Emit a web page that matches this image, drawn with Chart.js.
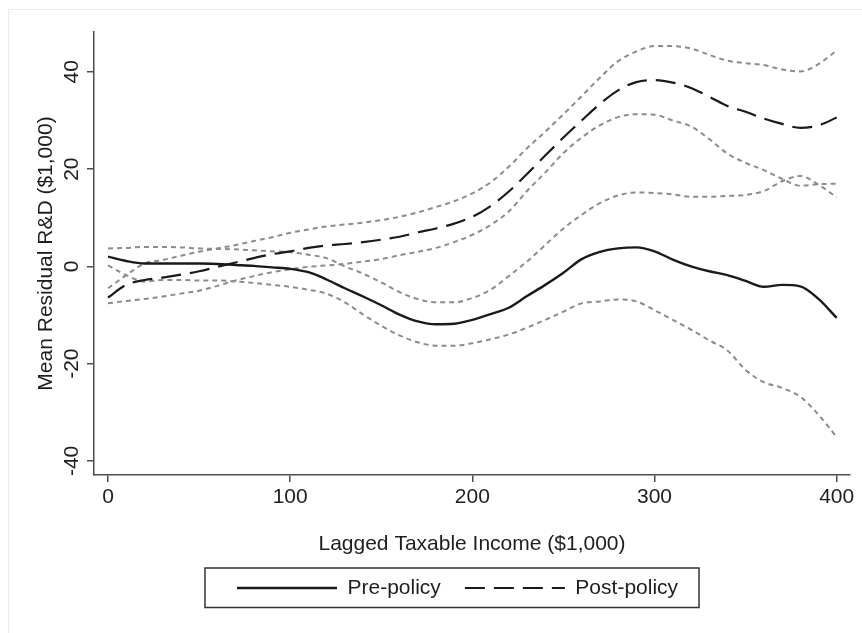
<!DOCTYPE html>
<html>
<head>
<meta charset="utf-8">
<script src="https://cdn.jsdelivr.net/npm/chart.js@4.4.1/dist/chart.umd.min.js"></script>
<style>
  html, body { margin: 0; padding: 0; background: #fff; }
  #wrap { position: relative; width: 862px; height: 633px; }
</style>
</head>
<body>
<div id="wrap"><canvas id="grafico"></canvas></div>
<script>
// x: lagged taxable income ($1,000)
const incomeGrid = [0, 10, 20, 30, 40, 50, 60, 70, 80, 90, 100, 110, 120, 130, 140, 150, 160, 170, 180, 190, 200,
  210, 220, 230, 240, 250, 260, 270, 280, 290, 300, 310, 320, 330, 340, 350, 360, 370, 380, 390, 400];

// mean residual R&D ($1,000)
const prePolicy = [2.0, 1.1, 0.6, 0.6, 0.6, 0.6, 0.5, 0.3, 0.1, -0.2, -0.5, -1.2, -2.7, -4.5, -6.2, -8.0, -9.9, -11.3, -11.9, -11.8, -11.0,
  -9.8, -8.5, -6.1, -3.8, -1.3, 1.5, 3.0, 3.7, 3.9, 3.1, 1.4, 0.0, -1.0, -1.8, -3.0, -4.2, -3.8, -4.1, -6.7, -10.6];
const postPolicy = [-6.4, -3.8, -2.8, -2.3, -1.7, -1.0, -0.1, 0.8, 1.7, 2.5, 3.1, 3.8, 4.3, 4.6, 5.0, 5.5, 6.1, 7.0, 7.8, 8.8, 10.2,
  12.4, 15.4, 19.0, 22.8, 26.5, 30.0, 33.4, 36.2, 37.9, 38.3, 37.8, 36.7, 34.9, 33.0, 31.8, 30.4, 29.3, 28.5, 29.0, 30.6];

// intervalos de confiança
const preHigh = [3.7, 3.8, 4.0, 4.0, 3.9, 3.7, 3.6, 3.5, 3.3, 3.1, 2.9, 2.4, 1.7, 0.0, -1.5, -3.3, -5.3, -6.7, -7.4, -7.4, -6.5,
  -4.8, -2.0, 1.0, 4.4, 7.8, 10.6, 13.0, 14.6, 15.2, 15.1, 14.8, 14.3, 14.3, 14.5, 14.7, 15.5, 17.5, 18.6, 16.8, 14.2];
const preLow = [0.2, -1.8, -3.1, -2.8, -2.8, -2.9, -2.9, -3.1, -3.4, -3.8, -4.2, -4.8, -5.6, -7.4, -9.9, -12.2, -14.2, -15.6, -16.3, -16.3, -15.8,
  -15.0, -14.0, -12.6, -11.0, -9.3, -7.6, -7.2, -6.8, -7.2, -9.0, -11.0, -13.0, -15.2, -17.3, -21.3, -23.8, -25.0, -26.8, -30.5, -35.1];
const postHigh = [-4.5, -1.8, 0.6, 1.3, 2.2, 3.0, 3.7, 4.4, 5.2, 6.0, 6.9, 7.6, 8.2, 8.6, 9.0, 9.5, 10.2, 11.1, 12.2, 13.4, 15.0,
  17.3, 20.5, 24.3, 27.7, 31.3, 35.0, 38.8, 42.2, 44.2, 45.3, 45.3, 44.8, 43.5, 42.3, 41.8, 41.4, 40.5, 40.1, 41.6, 44.4];
const postLow = [-7.6, -7.1, -6.7, -6.2, -5.6, -5.0, -4.0, -2.9, -2.0, -1.2, -0.6, -0.1, 0.2, 0.5, 1.0, 1.5, 2.3, 3.0, 3.8, 5.0, 6.5,
  8.5, 11.3, 15.5, 19.3, 23.3, 26.5, 29.0, 30.7, 31.3, 31.2, 30.0, 28.8, 26.2, 23.2, 21.3, 19.8, 18.0, 16.6, 16.9, 17.0];

const xTicks = [0, 100, 200, 300, 400];
const yTicks = [-40, -20, 0, 20, 40];

const toPoints = (ys) => incomeGrid.map((x, i) => ({ x: x, y: ys[i] }));

const fonte = { family: "'Liberation Sans', Arial, sans-serif", size: 21 };
const corTexto = '#1e1e1e';
const corEixo = '#4d4d4d';
const cinza = '#8c8c8c';

const linha = (label, ys, color, width, dash) => ({
  label: label,
  data: toPoints(ys),
  borderColor: color,
  backgroundColor: color,
  borderWidth: width,
  borderDash: dash,
  pointRadius: 0,
  fill: false,
  cubicInterpolationMode: 'monotone'
});

// moldura externa + caixa da legenda
const moldura = {
  id: 'moldura',
  beforeLayout(chart) {
    const lg = chart.legend;
    if (lg && !lg.__fixo) {
      const fitOriginal = lg.fit;
      lg.fit = function () { fitOriginal.call(this); this.height = 0; };
      lg.__fixo = true;
    }
  },
  afterLayout(chart) {
    const lg = chart.legend;
    if (!lg) return;
    // padding 24 -> first key starts at x = 237
    lg.left = 213; lg.right = 862; lg.width = 649;
    lg.top = 553.5; lg.bottom = 607; lg.height = 53.5;
  },
  beforeDraw(chart) {
    const ctx = chart.ctx;
    ctx.save();
    ctx.strokeStyle = '#e6eef0';
    ctx.lineWidth = 1;
    ctx.beginPath();
    ctx.moveTo(8.5, 633);
    ctx.lineTo(8.5, 9.5);
    ctx.lineTo(862, 9.5);
    ctx.stroke();
    ctx.restore();
  },
  afterDraw(chart) {
    const ctx = chart.ctx;
    ctx.save();
    ctx.strokeStyle = '#333';
    ctx.lineWidth = 1.5;
    ctx.strokeRect(205, 568, 494, 39.5);
    ctx.restore();
  }
};

new Chart(document.getElementById('grafico'), {
  type: 'line',
  data: {
    datasets: [
      linha('Pre-policy', prePolicy, '#1a1a1a', 2.4, []),
      linha('Post-policy', postPolicy, '#1a1a1a', 2.2, [20, 9]),
      linha('pre hi', preHigh, cinza, 2, [5, 4]),
      linha('pre lo', preLow, cinza, 2, [5, 4]),
      linha('post hi', postHigh, cinza, 2, [5, 4]),
      linha('post lo', postLow, cinza, 2, [5, 4])
    ]
  },
  options: {
    responsive: true,
    maintainAspectRatio: false,
    animation: false,
    layout: { padding: { left: 0, top: 32, right: 12, bottom: 76 } },
    plugins: {
      tooltip: { enabled: false },
      legend: {
        position: 'bottom',
        align: 'start',
        labels: {
          filter: (item) => item.datasetIndex < 2,
          generateLabels: (chart) => {
            const itens = Chart.defaults.plugins.legend.labels.generateLabels(chart);
            itens.forEach(it => {
              const ds = chart.data.datasets[it.datasetIndex];
              it.lineDash = ds.borderDash;
              it.lineWidth = ds.borderWidth;
              it.strokeStyle = ds.borderColor;
            });
            return itens;
          },
          usePointStyle: true,
          pointStyle: 'line',
          pointStyleWidth: 100,
          padding: 24,
          color: corTexto,
          font: fonte
        }
      }
    },
    scales: {
      x: {
        type: 'linear',
        min: -7.7,
        max: 407.3,
        afterBuildTicks: (s) => { s.ticks = xTicks.map(v => ({ value: v })); },
        afterFit: (s) => { s.height = 82; },
        ticks: { maxRotation: 0, padding: 3, color: corTexto, font: fonte },
        grid: { drawOnChartArea: false, drawTicks: true, tickLength: 7, color: corEixo, lineWidth: 1.5 },
        border: { display: true, color: corEixo, width: 1.5 },
        title: { display: true, text: 'Lagged Taxable Income ($1,000)', color: corTexto, font: fonte, padding: { top: 0, bottom: 0 } }
      },
      y: {
        type: 'linear',
        min: -42.9,
        max: 48.2,
        afterBuildTicks: (s) => { s.ticks = yTicks.map(v => ({ value: v })); },
        afterFit: (s) => { s.width = 94; },
        ticks: { minRotation: 90, maxRotation: 90, crossAlign: 'center', padding: 0, color: corTexto, font: fonte },
        grid: { drawOnChartArea: false, drawTicks: true, tickLength: 7, color: corEixo, lineWidth: 1.5 },
        border: { display: true, color: corEixo, width: 1.5 },
        title: { display: true, text: 'Mean Residual R&D ($1,000)', color: corTexto, font: fonte, padding: { top: 34, bottom: 0 } }
      }
    }
  },
  plugins: [moldura]
});
</script>
</body>
</html>
